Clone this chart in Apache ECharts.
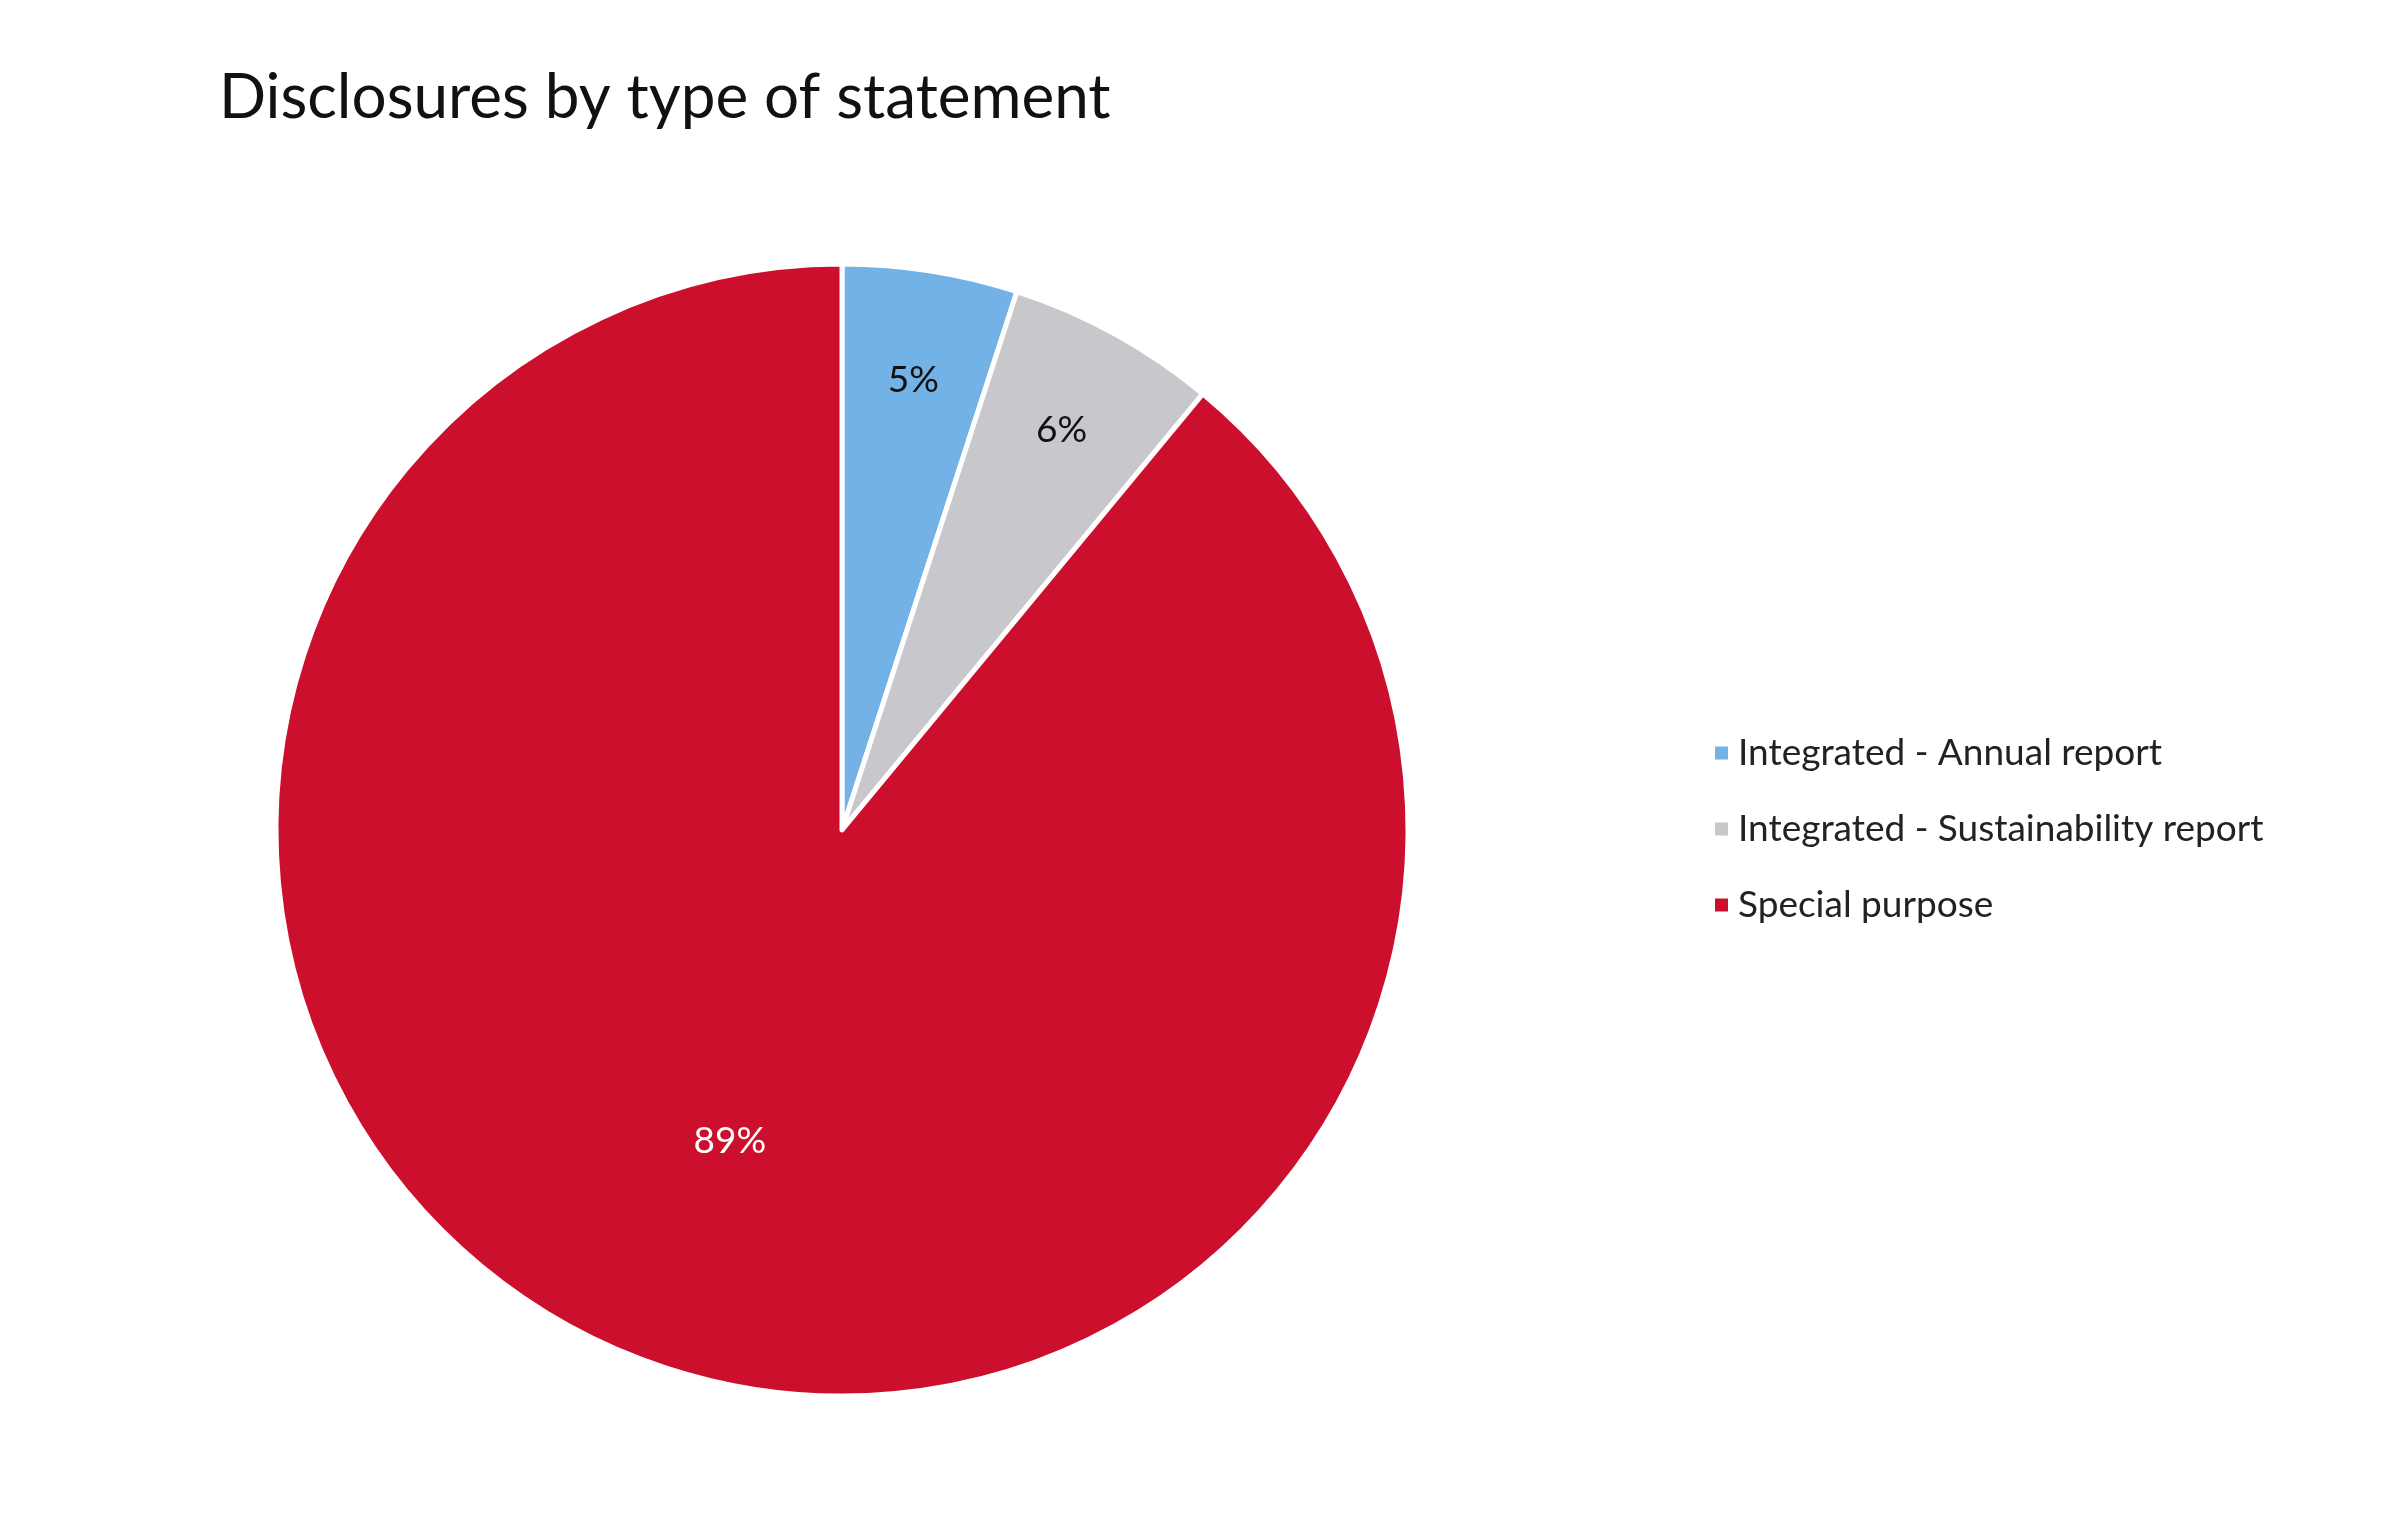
<!DOCTYPE html>
<html><head><meta charset="utf-8">
<script src="https://cdn.jsdelivr.net/npm/echarts@6/dist/echarts.min.js"></script>
<style>html,body{margin:0;padding:0;background:#fff}#c{width:2392px;height:1534px}</style>
</head><body><div id="c"></div>
<script>
const categories = ['Integrated - Annual report','Integrated - Sustainability report','Special purpose'];
const values = [5, 6, 89];
const colors = ['#72b2e6','#c8c7cb','#cc0f2c'];
const labelColors = ['#111','#111','#fff'];

const chart = echarts.init(document.getElementById('c'));
const font = 'Lato, "Noto Sans", sans-serif';
const center = [842, 830];
function overlay(radius, show){
  return {type:'pie', radius, center, startAngle:90, clockwise:true, silent:true,
    legendHoverLink:false, itemStyle:{color:'rgba(0,0,0,0)',borderWidth:0},
    data: categories.map((n,i)=>({name:n, value:values[i],
      label:{show:show.includes(i), position:'inside', formatter:'{c}%', color:labelColors[i], fontSize:37, fontFamily:font}})),
    labelLine:{show:false}, emphasis:{disabled:true}};
}
chart.setOption({
  animation:false,
  title:{text:'Disclosures by type of statement', left:214, top:62,
    textStyle:{fontSize:62, fontWeight:'normal', color:'#111', fontFamily:font}},
  legend:{orient:'vertical', left:1708, top:728, icon:'rect', itemWidth:15, itemHeight:15,
    itemGap:36, data:categories,
    textStyle:{fontSize:37, color:'#222', fontFamily:font, lineHeight:40, padding:[0,0,0,4]}},
  series:[
    {type:'pie', radius:566, center, startAngle:90, clockwise:true,
      itemStyle:{borderColor:'#fff', borderWidth:5},
      label:{show:false}, labelLine:{show:false}, emphasis:{disabled:true},
      data: categories.map((n,i)=>({name:n, value:values[i], itemStyle:{color:colors[i]}}))},
    overlay([340,566],[0,1]),
    overlay([90,566],[2])
  ]
});
</script></body></html>
